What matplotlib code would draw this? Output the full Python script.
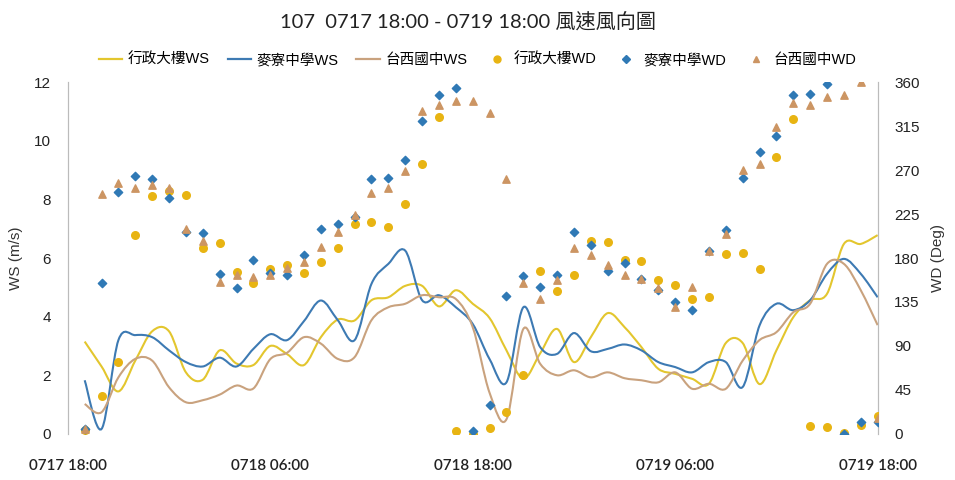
import numpy as np
import matplotlib
matplotlib.use("Agg")
import matplotlib.pyplot as plt
from matplotlib.path import Path
from matplotlib.patches import PathPatch
from matplotlib.lines import Line2D

plt.rcParams['font.family'] = ['Liberation Sans', 'Noto Sans CJK TC', 'DejaVu Sans']

# hours after 0717 18:00
hours = np.arange(1, 49)
tick_hours = [0, 12, 24, 36, 48]
tick_labels = ["0717 18:00", "0718 06:00", "0718 18:00", "0719 06:00", "0719 18:00"]

# wind speed (m/s)
ws_admin = [3.15, 2.3, 1.45, 2.5, 3.5, 3.5, 2.1, 1.85, 2.85, 2.4, 2.35, 3.0,
            2.72, 2.35, 3.3, 3.9, 3.87, 4.56, 4.66, 5.05, 5.05, 4.35, 4.9, 4.44,
            3.95, 2.85, 1.88, 2.75, 3.58, 2.45, 3.3, 4.12, 3.64, 2.96, 2.22, 2.05,
            1.88, 1.71, 3.1, 3.1, 1.7, 2.85, 3.98, 4.56, 4.78, 6.48, 6.48, 6.78]
ws_mailiao = [1.83, 0.17, 3.2, 3.37, 3.3, 2.85, 2.45, 2.3, 2.6, 2.3, 2.9, 3.4,
              3.2, 3.85, 4.55, 3.88, 3.2, 5.12, 5.8, 6.25, 4.56, 4.73, 4.32, 3.75,
              2.55, 1.76, 4.32, 2.96, 2.73, 3.44, 2.82, 2.9, 3.05, 2.85, 2.45, 2.28,
              2.1, 2.45, 2.45, 1.6, 3.7, 4.44, 4.22, 4.56, 5.46, 5.97, 5.46, 4.66]
ws_taixi = [1.02, 0.74, 1.93, 2.56, 2.5, 1.59, 1.08, 1.15, 1.34, 1.65, 1.55, 2.55,
            2.77, 3.3, 3.08, 2.56, 2.62, 3.88, 4.32, 4.44, 4.73, 4.66, 4.6, 3.64,
            1.4, 0.5, 3.58, 2.39, 2.0, 2.17, 1.93, 2.1, 1.9, 1.83, 1.76, 2.1,
            1.54, 1.71, 1.54, 2.5, 3.2, 3.47, 4.15, 4.44, 5.8, 5.8, 4.9, 3.71]

# wind direction (deg)
wd_admin = [4, 39, 74, 204, 243, 249, 244, 190, 195, 166, 154, 169,
            173, 165, 176, 190, 215, 217, 212, 235, 276, 324, 3, 0,
            6, 22, 60, 167, 146, 163, 197, 196, 178, 177, 158, 152,
            138, 140, 184, 185, 169, 283, 322, 8, 7, 1, 9, 18]
wd_mailiao = [5, 154, 248, 264, 261, 241, 207, 206, 164, 149, 178, 165,
              163, 183, 210, 215, 222, 261, 262, 280, 320, 347, 354, 3,
              30, 141, 162, 150, 163, 207, 193, 167, 175, 159, 147, 135,
              127, 187, 209, 262, 288, 305, 347, 348, 358, 0, 12, 12]
wd_taixi = [5, 245, 257, 252, 255, 252, 210, 197, 155, 163, 161, 163,
            170, 176, 191, 207, 224, 246, 252, 269, 330, 337, 341, 341,
            328, 261, 154, 138, 158, 190, 183, 173, 163, 159, 149, 130,
            150, 187, 205, 270, 276, 314, 339, 337, 345, 347, 360, 16]

c_admin_line = "#E3C62E"
c_mailiao_line = "#3D7AB3"
c_taixi_line = "#C9A27E"
c_admin_pt = "#E8B412"
c_mailiao_pt = "#2F79B5"
c_taixi_pt = "#CC9563"


def smooth_line(ax, x, y, color):
    # excel-style smoothed line: cubic bezier through every point
    x = np.asarray(x, float)
    y = np.asarray(y, float)
    n = len(x)
    verts = [(x[0], y[0])]
    codes = [Path.MOVETO]
    for i in range(n - 1):
        x0, y0 = (x[i - 1], y[i - 1]) if i > 0 else (x[i], y[i])
        x3, y3 = (x[i + 2], y[i + 2]) if i + 2 < n else (x[i + 1], y[i + 1])
        c1 = (x[i] + (x[i + 1] - x0) / 6, y[i] + (y[i + 1] - y0) / 6)
        c2 = (x[i + 1] - (x3 - x[i]) / 6, y[i + 1] - (y3 - y[i]) / 6)
        verts += [c1, c2, (x[i + 1], y[i + 1])]
        codes += [Path.CURVE4] * 3
    ax.add_patch(PathPatch(Path(verts, codes), fill=False, edgecolor=color, lw=1.5))


fig = plt.figure(figsize=(9.55, 4.8), dpi=100)
ax = fig.add_axes([0.071, 0.096, 0.848, 0.733])
ax2 = ax.twinx()

smooth_line(ax, hours, ws_admin, c_admin_line)
smooth_line(ax, hours, ws_mailiao, c_mailiao_line)
smooth_line(ax, hours, ws_taixi, c_taixi_line)

ax2.scatter(hours, wd_admin, marker="o", s=30, color=c_admin_pt, zorder=3)
ax2.scatter(hours, wd_mailiao, marker="D", s=18, color=c_mailiao_pt, zorder=3)
ax2.scatter(hours, wd_taixi, marker="^", s=28, color=c_taixi_pt, zorder=3)

ax.set_xlim(0, 48)
ax.set_ylim(0, 12)
ax.set_yticks(range(0, 13, 2))
ax2.set_ylim(0, 360)
ax2.set_yticks(range(0, 361, 45))
ax.set_xticks(tick_hours)
ax.set_xticklabels(tick_labels, fontsize=11, family=['Lato', 'DejaVu Sans'],
                   fontweight='semibold')

for a in (ax, ax2):
    for s in ("top", "bottom"):
        a.spines[s].set_visible(False)
    a.spines["left"].set_color("#BBBBBB")
    a.spines["right"].set_color("#BBBBBB")
    a.tick_params(length=0, labelsize=11, colors="#222222")
ax.tick_params(axis="y", pad=12)
ax2.tick_params(axis="y", pad=12)
ax.tick_params(axis="x", pad=18)

ax.set_ylabel("WS (m/s)", fontsize=11, color="#333333", labelpad=8)
ax2.set_ylabel("WD (Deg)", fontsize=11, color="#333333", rotation=90, labelpad=8)

fig.text(0.49, 0.955, "107  0717 18:00 - 0719 18:00 風速風向圖",
         ha="center", va="center", fontsize=14.5, color="#222222",
         family=['Lato', 'Noto Sans CJK TC'])

handles = [
    Line2D([], [], color=c_admin_line, lw=1.6),
    Line2D([], [], color=c_mailiao_line, lw=1.6),
    Line2D([], [], color=c_taixi_line, lw=1.6),
    Line2D([], [], ls="", marker="o", ms=5, color=c_admin_pt),
    Line2D([], [], ls="", marker="D", ms=4, color=c_mailiao_pt),
    Line2D([], [], ls="", marker="^", ms=5, color=c_taixi_pt),
]
labels = ["行政大樓WS", "麥寮中學WS", "台西國中WS", "行政大樓WD", "麥寮中學WD", "台西國中WD"]
fig.legend(handles, labels, loc="center", bbox_to_anchor=(0.5, 0.875), ncol=6,
           frameon=False, fontsize=10.5, handlelength=1.6, handletextpad=0.4,
           columnspacing=1.2)

fig.savefig("out.png", dpi=100)
